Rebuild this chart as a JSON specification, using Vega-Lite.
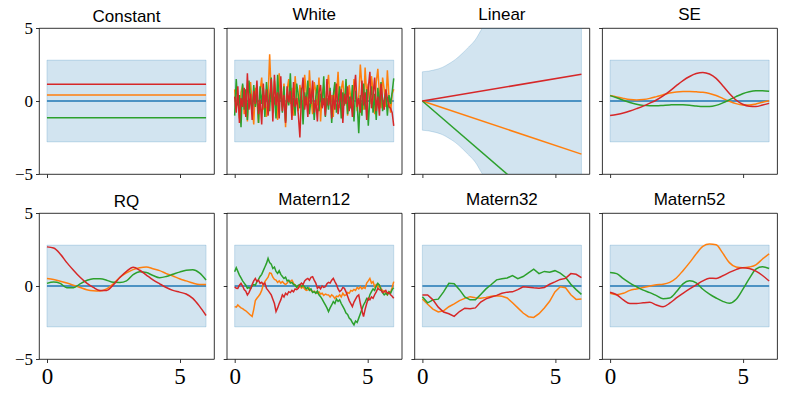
{
"$schema": "https://vega.github.io/schema/vega-lite/v6.json",
"background": "white",
"padding": {"left": 14, "top": 5, "right": 5, "bottom": 5},
"config": {
 "view": {"stroke": "#000", "strokeWidth": 0.8},
 "axis": {"grid": false, "domain": false, "tickColor": "#000", "tickWidth": 0.8, "tickSize": 3.5, "labelColor": "#000", "labelFont": "Liberation Serif", "labelPadding": 3},
 "axisX": {"labelFontSize": 23},
 "axisY": {"labelFontSize": 17},
 "title": {"font": "Liberation Sans", "fontSize": 17, "fontWeight": "normal", "color": "#000", "offset": 0},
 "line": {"strokeWidth": 1.5}
},
"datasets": {
"b": [
{"k":"C","x":0,"lo":-2.8,"hi":2.8},{"k":"C","x":6,"lo":-2.8,"hi":2.8},
{"k":"W","x":0,"lo":-2.8,"hi":2.8},{"k":"W","x":6,"lo":-2.8,"hi":2.8},
{"k":"SE","x":0,"lo":-2.8,"hi":2.8},{"k":"SE","x":6,"lo":-2.8,"hi":2.8},
{"k":"RQ","x":0,"lo":-2.8,"hi":2.8},{"k":"RQ","x":6,"lo":-2.8,"hi":2.8},
{"k":"M12","x":0,"lo":-2.8,"hi":2.8},{"k":"M12","x":6,"lo":-2.8,"hi":2.8},
{"k":"M32","x":0,"lo":-2.8,"hi":2.8},{"k":"M32","x":6,"lo":-2.8,"hi":2.8},
{"k":"M52","x":0,"lo":-2.8,"hi":2.8},{"k":"M52","x":6,"lo":-2.8,"hi":2.8},
{"k":"L","x":0,"lo":-2.0,"hi":2.0},{"k":"L","x":0.25,"lo":-2.05,"hi":2.05},{"k":"L","x":0.5,"lo":-2.15,"hi":2.15},{"k":"L","x":0.75,"lo":-2.3,"hi":2.3},{"k":"L","x":1,"lo":-2.55,"hi":2.55},{"k":"L","x":1.25,"lo":-2.85,"hi":2.85},{"k":"L","x":1.5,"lo":-3.25,"hi":3.25},{"k":"L","x":1.75,"lo":-3.7,"hi":3.7},{"k":"L","x":2,"lo":-4.2,"hi":4.2},{"k":"L","x":2.25,"lo":-4.95,"hi":4.95},{"k":"L","x":2.5,"lo":-5.5,"hi":5.5},{"k":"L","x":3,"lo":-6.6,"hi":6.6},{"k":"L","x":4,"lo":-8.6,"hi":8.6},{"k":"L","x":5,"lo":-10.6,"hi":10.6},{"k":"L","x":6,"lo":-12.6,"hi":12.6}
],
"s": [
{"k":"C","x":0,"o":0.41,"g":-1.15,"r":1.15},{"k":"C","x":6,"o":0.41,"g":-1.15,"r":1.15},
{"k":"L","x":0,"o":0,"g":0,"r":0},{"k":"L","x":6,"o":-3.64,"g":-9.4,"r":1.83},
{"k":"SE","x":0,"o":0.37,"g":0.37,"r":-1.0},{"k":"SE","x":0.25,"o":0.28,"g":0.22,"r":-0.92},{"k":"SE","x":0.5,"o":0.18,"g":0.05,"r":-0.82},{"k":"SE","x":0.75,"o":0.1,"g":-0.1,"r":-0.68},{"k":"SE","x":1,"o":0.07,"g":-0.22,"r":-0.52},{"k":"SE","x":1.25,"o":0.1,"g":-0.3,"r":-0.35},{"k":"SE","x":1.5,"o":0.18,"g":-0.33,"r":-0.15},{"k":"SE","x":1.75,"o":0.3,"g":-0.33,"r":0.07},{"k":"SE","x":2,"o":0.43,"g":-0.3,"r":0.35},{"k":"SE","x":2.25,"o":0.55,"g":-0.27,"r":0.68},{"k":"SE","x":2.5,"o":0.62,"g":-0.25,"r":1.05},{"k":"SE","x":2.75,"o":0.65,"g":-0.26,"r":1.4},{"k":"SE","x":3,"o":0.65,"g":-0.29,"r":1.68},{"k":"SE","x":3.25,"o":0.63,"g":-0.34,"r":1.88},{"k":"SE","x":3.5,"o":0.6,"g":-0.38,"r":1.96},{"k":"SE","x":3.75,"o":0.52,"g":-0.38,"r":1.85},{"k":"SE","x":4,"o":0.38,"g":-0.3,"r":1.55},{"k":"SE","x":4.25,"o":0.18,"g":-0.13,"r":1.05},{"k":"SE","x":4.5,"o":-0.02,"g":0.08,"r":0.52},{"k":"SE","x":4.75,"o":-0.18,"g":0.3,"r":0.07},{"k":"SE","x":5,"o":-0.27,"g":0.5,"r":-0.22},{"k":"SE","x":5.25,"o":-0.28,"g":0.63,"r":-0.36},{"k":"SE","x":5.5,"o":-0.2,"g":0.7,"r":-0.38},{"k":"SE","x":5.75,"o":-0.08,"g":0.71,"r":-0.28},{"k":"SE","x":6,"o":0.02,"g":0.67,"r":-0.16},
{"k":"RQ","x":0,"o":0.52,"g":0.18,"r":2.68},{"k":"RQ","x":0.25,"o":0.45,"g":0.27,"r":2.6},{"k":"RQ","x":0.5,"o":0.33,"g":0.18,"r":2.2},{"k":"RQ","x":0.75,"o":0.2,"g":-0.12,"r":1.6},{"k":"RQ","x":1,"o":0.05,"g":-0.12,"r":1.08},{"k":"RQ","x":1.25,"o":-0.1,"g":0.15,"r":0.6},{"k":"RQ","x":1.5,"o":-0.25,"g":0.38,"r":0.2},{"k":"RQ","x":1.75,"o":-0.33,"g":0.5,"r":-0.1},{"k":"RQ","x":2,"o":-0.35,"g":0.49,"r":-0.3},{"k":"RQ","x":2.25,"o":-0.2,"g":0.4,"r":-0.3},{"k":"RQ","x":2.5,"o":0.15,"g":0.25,"r":0.07},{"k":"RQ","x":2.75,"o":0.6,"g":0.24,"r":0.58},{"k":"RQ","x":3,"o":0.9,"g":0.35,"r":1.0},{"k":"RQ","x":3.25,"o":1.12,"g":0.78,"r":1.28},{"k":"RQ","x":3.5,"o":1.25,"g":0.98,"r":1.08},{"k":"RQ","x":3.75,"o":1.3,"g":0.92,"r":0.75},{"k":"RQ","x":4,"o":1.18,"g":0.72,"r":0.42},{"k":"RQ","x":4.25,"o":1.05,"g":0.57,"r":0.15},{"k":"RQ","x":4.5,"o":0.85,"g":0.65,"r":-0.1},{"k":"RQ","x":4.75,"o":0.68,"g":0.8,"r":-0.3},{"k":"RQ","x":5,"o":0.5,"g":0.95,"r":-0.42},{"k":"RQ","x":5.25,"o":0.35,"g":1.08,"r":-0.55},{"k":"RQ","x":5.5,"o":0.2,"g":1.11,"r":-0.85},{"k":"RQ","x":5.75,"o":0.1,"g":0.9,"r":-1.38},{"k":"RQ","x":6,"o":0.11,"g":0.41,"r":-2.02},
{"k":"M52","x":0,"o":-0.5,"g":0.93,"r":-0.43},{"k":"M52","x":0.25,"o":-0.6,"g":0.85,"r":-0.6},{"k":"M52","x":0.5,"o":-0.5,"g":0.5,"r":-0.95},{"k":"M52","x":0.75,"o":-0.3,"g":0.2,"r":-1.2},{"k":"M52","x":1,"o":-0.2,"g":-0.05,"r":-1.2},{"k":"M52","x":1.25,"o":-0.1,"g":-0.28,"r":-1.15},{"k":"M52","x":1.5,"o":0.0,"g":-0.45,"r":-1.12},{"k":"M52","x":1.75,"o":0.08,"g":-0.66,"r":-1.3},{"k":"M52","x":2,"o":0.12,"g":-0.87,"r":-1.42},{"k":"M52","x":2.25,"o":0.25,"g":-0.82,"r":-1.18},{"k":"M52","x":2.5,"o":0.55,"g":-0.4,"r":-0.82},{"k":"M52","x":2.75,"o":1.05,"g":0.15,"r":-0.5},{"k":"M52","x":3,"o":1.6,"g":0.36,"r":-0.2},{"k":"M52","x":3.25,"o":2.2,"g":0.22,"r":0.08},{"k":"M52","x":3.5,"o":2.72,"g":-0.22,"r":0.35},{"k":"M52","x":3.75,"o":2.87,"g":-0.55,"r":0.53},{"k":"M52","x":4,"o":2.82,"g":-0.82,"r":0.52},{"k":"M52","x":4.25,"o":2.25,"g":-1.05,"r":0.7},{"k":"M52","x":4.5,"o":1.6,"g":-1.18,"r":0.93},{"k":"M52","x":4.75,"o":1.3,"g":-0.93,"r":1.12},{"k":"M52","x":5,"o":1.25,"g":-0.25,"r":1.25},{"k":"M52","x":5.25,"o":1.3,"g":0.5,"r":1.2},{"k":"M52","x":5.5,"o":1.45,"g":1.16,"r":1.02},{"k":"M52","x":5.75,"o":1.85,"g":1.32,"r":0.72},{"k":"M52","x":6,"o":2.2,"g":1.2,"r":0.34},
{"k":"M32","x":0,"o":-0.89,"g":-0.73,"r":-0.61},{"k":"M32","x":0.2,"o":-1.25,"g":-1.15,"r":-0.62},{"k":"M32","x":0.4,"o":-1.58,"g":-0.95,"r":-0.95},{"k":"M32","x":0.6,"o":-1.78,"g":-0.9,"r":-1.45},{"k":"M32","x":0.8,"o":-1.7,"g":-0.4,"r":-1.78},{"k":"M32","x":1,"o":-1.42,"g":0.18,"r":-1.9},{"k":"M32","x":1.2,"o":-1.22,"g":0.15,"r":-2.08},{"k":"M32","x":1.4,"o":-1.0,"g":-0.25,"r":-1.75},{"k":"M32","x":1.6,"o":-0.85,"g":-0.75,"r":-1.52},{"k":"M32","x":1.8,"o":-0.73,"g":-0.95,"r":-1.55},{"k":"M32","x":2,"o":-0.8,"g":-0.95,"r":-1.5},{"k":"M32","x":2.2,"o":-0.84,"g":-0.58,"r":-1.1},{"k":"M32","x":2.4,"o":-0.78,"g":-0.2,"r":-0.88},{"k":"M32","x":2.6,"o":-0.7,"g":0.1,"r":-0.75},{"k":"M32","x":2.8,"o":-0.66,"g":0.42,"r":-0.64},{"k":"M32","x":3,"o":-0.7,"g":0.5,"r":-0.5},{"k":"M32","x":3.2,"o":-0.82,"g":0.55,"r":-0.42},{"k":"M32","x":3.4,"o":-1.15,"g":0.72,"r":-0.4},{"k":"M32","x":3.6,"o":-1.5,"g":0.5,"r":-0.25},{"k":"M32","x":3.8,"o":-1.85,"g":0.65,"r":-0.05},{"k":"M32","x":4,"o":-2.1,"g":0.9,"r":-0.08},{"k":"M32","x":4.2,"o":-2.15,"g":1.15,"r":-0.12},{"k":"M32","x":4.4,"o":-1.9,"g":0.85,"r":-0.15},{"k":"M32","x":4.6,"o":-1.5,"g":1.0,"r":-0.1},{"k":"M32","x":4.8,"o":-1.05,"g":0.95,"r":0.12},{"k":"M32","x":5,"o":-0.4,"g":1.05,"r":0.28},{"k":"M32","x":5.2,"o":-0.05,"g":0.88,"r":0.45},{"k":"M32","x":5.4,"o":-0.12,"g":0.6,"r":0.52},{"k":"M32","x":5.6,"o":-0.6,"g":0.12,"r":0.85},{"k":"M32","x":5.8,"o":-0.92,"g":-0.25,"r":0.8},{"k":"M32","x":6,"o":-0.89,"g":-0.57,"r":0.57},
{"k":"W","x":0,"o":0.8,"g":-1.0,"r":0.3},{"k":"W","x":0.06,"o":-0.5,"g":1.5,"r":-0.8},{"k":"W","x":0.12,"o":0.3,"g":-0.3,"r":1.0},{"k":"W","x":0.18,"o":-1.2,"g":0.4,"r":-1.5},{"k":"W","x":0.24,"o":0.6,"g":-1.8,"r":0.2},{"k":"W","x":0.3,"o":1.1,"g":1.2,"r":-0.4},{"k":"W","x":0.36,"o":-0.9,"g":-0.6,"r":0.9},{"k":"W","x":0.42,"o":0.2,"g":0.8,"r":-1.1},{"k":"W","x":0.48,"o":-1.4,"g":-1.3,"r":1.9},{"k":"W","x":0.54,"o":0.5,"g":1.4,"r":-0.6},
{"k":"W","x":0.6,"o":1.3,"g":0.2,"r":0.5},{"k":"W","x":0.66,"o":-0.3,"g":-0.9,"r":-1.3},{"k":"W","x":0.72,"o":-1.6,"g":1.1,"r":0.7},{"k":"W","x":0.78,"o":0.9,"g":-0.4,"r":-0.2},{"k":"W","x":0.84,"o":0.1,"g":0.6,"r":1.4},{"k":"W","x":0.9,"o":-1.5,"g":-1.5,"r":-0.9},{"k":"W","x":0.96,"o":0.7,"g":1.0,"r":0.1},{"k":"W","x":1.02,"o":1.6,"g":-0.2,"r":-1.6},{"k":"W","x":1.08,"o":-0.6,"g":0.9,"r":1.2},{"k":"W","x":1.14,"o":0.4,"g":-1.1,"r":-0.5},
{"k":"W","x":1.2,"o":-1.1,"g":1.3,"r":0.8},{"k":"W","x":1.26,"o":0.2,"g":0.1,"r":-1.0},{"k":"W","x":1.32,"o":3.2,"g":-0.7,"r":0.3},{"k":"W","x":1.38,"o":0.5,"g":1.6,"r":1.5},{"k":"W","x":1.44,"o":-0.8,"g":-0.5,"r":-1.4},{"k":"W","x":1.5,"o":1.4,"g":0.3,"r":1.8},{"k":"W","x":1.56,"o":0.3,"g":-1.2,"r":-0.3},{"k":"W","x":1.62,"o":-1.3,"g":1.8,"r":0.6},{"k":"W","x":1.68,"o":1.9,"g":-0.1,"r":-1.2},{"k":"W","x":1.74,"o":0.6,"g":0.7,"r":1.7},
{"k":"W","x":1.8,"o":-0.4,"g":-0.8,"r":-0.7},{"k":"W","x":1.86,"o":1.2,"g":1.0,"r":0.4},{"k":"W","x":1.92,"o":-1.8,"g":-1.4,"r":-1.5},{"k":"W","x":1.98,"o":0.8,"g":0.5,"r":1.0},{"k":"W","x":2.04,"o":1.5,"g":-0.3,"r":-0.1},{"k":"W","x":2.1,"o":-0.2,"g":1.9,"r":0.7},{"k":"W","x":2.16,"o":0.9,"g":-0.6,"r":-1.3},{"k":"W","x":2.22,"o":-1.0,"g":0.2,"r":1.3},{"k":"W","x":2.28,"o":1.7,"g":-1.0,"r":-0.4},{"k":"W","x":2.34,"o":0.4,"g":1.2,"r":0.2},
{"k":"W","x":2.4,"o":-0.7,"g":0.4,"r":-0.9},{"k":"W","x":2.46,"o":1.1,"g":-0.5,"r":-2.5},{"k":"W","x":2.52,"o":0.3,"g":0.9,"r":0.5},{"k":"W","x":2.58,"o":-1.2,"g":-1.6,"r":1.6},{"k":"W","x":2.64,"o":1.8,"g":0.6,"r":-0.6},{"k":"W","x":2.7,"o":0.6,"g":-0.2,"r":0.3},{"k":"W","x":2.76,"o":-0.5,"g":1.4,"r":-1.1},{"k":"W","x":2.82,"o":2.1,"g":-0.9,"r":0.9},{"k":"W","x":2.88,"o":0.2,"g":0.1,"r":-0.2},{"k":"W","x":2.94,"o":-0.9,"g":0.8,"r":1.4},
{"k":"W","x":3,"o":1.3,"g":-1.3,"r":-0.8},{"k":"W","x":3.06,"o":0.7,"g":0.3,"r":0.1},{"k":"W","x":3.12,"o":-0.3,"g":1.1,"r":-1.4},{"k":"W","x":3.18,"o":1.6,"g":-0.7,"r":0.6},{"k":"W","x":3.24,"o":-1.4,"g":0.5,"r":1.1},{"k":"W","x":3.3,"o":0.5,"g":-0.4,"r":-0.5},{"k":"W","x":3.36,"o":1.0,"g":1.7,"r":0.2},{"k":"W","x":3.42,"o":-0.6,"g":-1.1,"r":-1.0},{"k":"W","x":3.48,"o":0.9,"g":0.2,"r":1.5},{"k":"W","x":3.54,"o":1.8,"g":-0.6,"r":-0.3},
{"k":"W","x":3.6,"o":-0.2,"g":0.9,"r":0.7},{"k":"W","x":3.66,"o":0.4,"g":-1.5,"r":-1.2},{"k":"W","x":3.72,"o":-1.1,"g":0.4,"r":0.4},{"k":"W","x":3.78,"o":1.2,"g":1.3,"r":-0.6},{"k":"W","x":3.84,"o":0.3,"g":-0.8,"r":1.2},{"k":"W","x":3.9,"o":2.0,"g":0.0,"r":-0.9},{"k":"W","x":3.96,"o":-0.5,"g":1.0,"r":0.0},{"k":"W","x":4.02,"o":0.8,"g":-1.2,"r":0.8},{"k":"W","x":4.08,"o":1.4,"g":0.6,"r":-1.5},{"k":"W","x":4.14,"o":-0.3,"g":-0.3,"r":0.5},
{"k":"W","x":4.2,"o":0.6,"g":1.5,"r":-0.2},{"k":"W","x":4.26,"o":-1.0,"g":-0.9,"r":1.0},{"k":"W","x":4.32,"o":1.1,"g":0.3,"r":-0.7},{"k":"W","x":4.38,"o":0.2,"g":-0.5,"r":0.3},{"k":"W","x":4.44,"o":-0.4,"g":1.1,"r":-1.1},{"k":"W","x":4.5,"o":1.5,"g":-1.4,"r":0.6},{"k":"W","x":4.56,"o":0.9,"g":0.7,"r":1.8},{"k":"W","x":4.62,"o":-0.7,"g":-0.1,"r":-0.4},{"k":"W","x":4.68,"o":0.3,"g":-2.2,"r":0.2},{"k":"W","x":4.74,"o":2.5,"g":0.4,"r":-0.8},
{"k":"W","x":4.8,"o":1.0,"g":-1.0,"r":1.4},{"k":"W","x":4.86,"o":-0.6,"g":1.2,"r":-0.3},{"k":"W","x":4.92,"o":2.3,"g":-0.6,"r":0.6},{"k":"W","x":4.98,"o":0.4,"g":0.8,"r":-1.3},{"k":"W","x":5.04,"o":1.2,"g":-1.7,"r":0.9},{"k":"W","x":5.1,"o":-0.2,"g":0.2,"r":2.0},{"k":"W","x":5.16,"o":1.7,"g":1.0,"r":-0.5},{"k":"W","x":5.22,"o":0.7,"g":-0.8,"r":0.4},{"k":"W","x":5.28,"o":-0.9,"g":0.5,"r":1.6},{"k":"W","x":5.34,"o":1.3,"g":-1.3,"r":-0.7},
{"k":"W","x":5.4,"o":2.2,"g":0.9,"r":0.3},{"k":"W","x":5.46,"o":0.5,"g":-0.4,"r":-1.0},{"k":"W","x":5.52,"o":-0.5,"g":1.3,"r":1.2},{"k":"W","x":5.58,"o":1.6,"g":-0.7,"r":0.1},{"k":"W","x":5.64,"o":0.8,"g":0.1,"r":-0.6},{"k":"W","x":5.7,"o":-0.4,"g":0.6,"r":0.8},{"k":"W","x":5.76,"o":2.1,"g":-1.0,"r":0.2},{"k":"W","x":5.82,"o":0.3,"g":0.4,"r":-0.4},{"k":"W","x":5.88,"o":-0.8,"g":-0.2,"r":-0.5},{"k":"W","x":5.94,"o":0.5,"g":0.6,"r":-0.8},{"k":"W","x":6,"o":0.8,"g":1.55,"r":-1.7},
{"k":"M12","x":0,"o":-1.41,"g":0.98,"r":-0.05},{"k":"M12","x":0.06,"o":-1.45,"g":1.25,"r":-0.15},{"k":"M12","x":0.12,"o":-1.3,"g":1.0,"r":-0.16},{"k":"M12","x":0.18,"o":-1.4,"g":0.75,"r":0.05},{"k":"M12","x":0.24,"o":-1.5,"g":0.55,"r":0.18},{"k":"M12","x":0.3,"o":-1.55,"g":0.35,"r":0.0},{"k":"M12","x":0.36,"o":-1.64,"g":0.2,"r":-0.25},{"k":"M12","x":0.42,"o":-1.7,"g":0.05,"r":-0.35},{"k":"M12","x":0.48,"o":-1.8,"g":-0.15,"r":-0.61},{"k":"M12","x":0.54,"o":-1.9,"g":-0.1,"r":-0.45},
{"k":"M12","x":0.6,"o":-2.0,"g":-0.2,"r":-0.2},{"k":"M12","x":0.66,"o":-2.09,"g":0.0,"r":0.1},{"k":"M12","x":0.72,"o":-1.6,"g":0.1,"r":0.35},{"k":"M12","x":0.78,"o":-1.0,"g":0.05,"r":0.52},{"k":"M12","x":0.84,"o":-0.84,"g":0.3,"r":0.3},{"k":"M12","x":0.9,"o":-0.7,"g":0.45,"r":0.4},{"k":"M12","x":0.96,"o":-0.55,"g":0.65,"r":0.18},{"k":"M12","x":1.02,"o":-0.3,"g":0.8,"r":0.25},{"k":"M12","x":1.08,"o":0.1,"g":1.05,"r":0.1},{"k":"M12","x":1.14,"o":0.3,"g":1.3,"r":0.2},
{"k":"M12","x":1.2,"o":0.45,"g":1.55,"r":-0.16},{"k":"M12","x":1.26,"o":0.6,"g":1.89,"r":-0.3},{"k":"M12","x":1.32,"o":0.9,"g":1.6,"r":-0.45},{"k":"M12","x":1.38,"o":0.86,"g":1.5,"r":-0.61},{"k":"M12","x":1.44,"o":0.6,"g":1.2,"r":-0.9},{"k":"M12","x":1.5,"o":0.45,"g":1.3,"r":-1.2},{"k":"M12","x":1.56,"o":0.41,"g":1.0,"r":-1.75},{"k":"M12","x":1.62,"o":0.25,"g":0.86,"r":-1.5},{"k":"M12","x":1.68,"o":0.35,"g":1.05,"r":-1.2},{"k":"M12","x":1.74,"o":0.2,"g":0.8,"r":-0.95},
{"k":"M12","x":1.8,"o":0.3,"g":0.65,"r":-0.61},{"k":"M12","x":1.86,"o":0.18,"g":0.52,"r":-0.75},{"k":"M12","x":1.92,"o":0.1,"g":0.6,"r":-0.5},{"k":"M12","x":1.98,"o":0.2,"g":0.35,"r":-0.6},{"k":"M12","x":2.04,"o":0.35,"g":0.4,"r":-0.39},{"k":"M12","x":2.1,"o":0.3,"g":0.2,"r":-0.45},{"k":"M12","x":2.16,"o":0.4,"g":0.25,"r":-0.3},{"k":"M12","x":2.22,"o":0.2,"g":0.1,"r":-0.4},{"k":"M12","x":2.28,"o":0.05,"g":0.07,"r":-0.2},{"k":"M12","x":2.34,"o":-0.05,"g":-0.1,"r":-0.25},
{"k":"M12","x":2.4,"o":-0.11,"g":0.05,"r":-0.16},{"k":"M12","x":2.46,"o":0.0,"g":0.1,"r":0.05},{"k":"M12","x":2.52,"o":-0.15,"g":-0.05,"r":0.2},{"k":"M12","x":2.58,"o":-0.05,"g":0.05,"r":0.1},{"k":"M12","x":2.64,"o":-0.2,"g":-0.05,"r":0.35},{"k":"M12","x":2.7,"o":-0.3,"g":-0.2,"r":0.45},{"k":"M12","x":2.76,"o":-0.27,"g":-0.1,"r":0.52},{"k":"M12","x":2.82,"o":-0.15,"g":-0.3,"r":0.4},{"k":"M12","x":2.88,"o":-0.3,"g":-0.2,"r":0.6},{"k":"M12","x":2.94,"o":-0.4,"g":-0.45,"r":0.64},
{"k":"M12","x":3,"o":-0.35,"g":-0.39,"r":0.4},{"k":"M12","x":3.06,"o":-0.45,"g":-0.5,"r":0.2},{"k":"M12","x":3.12,"o":-0.5,"g":-0.35,"r":-0.16},{"k":"M12","x":3.18,"o":-0.4,"g":-0.6,"r":-0.05},{"k":"M12","x":3.24,"o":-0.55,"g":-0.73,"r":-0.2},{"k":"M12","x":3.3,"o":-0.5,"g":-0.9,"r":0.0},{"k":"M12","x":3.36,"o":-0.65,"g":-1.1,"r":-0.1},{"k":"M12","x":3.42,"o":-0.55,"g":-1.3,"r":-0.05},{"k":"M12","x":3.48,"o":-0.6,"g":-1.5,"r":0.15},{"k":"M12","x":3.54,"o":-0.61,"g":-1.75,"r":0.25},
{"k":"M12","x":3.6,"o":-0.75,"g":-1.5,"r":0.2},{"k":"M12","x":3.66,"o":-0.6,"g":-1.3,"r":0.4},{"k":"M12","x":3.72,"o":-0.7,"g":-1.07,"r":0.52},{"k":"M12","x":3.78,"o":-0.85,"g":-1.2,"r":0.3},{"k":"M12","x":3.84,"o":-0.7,"g":-0.9,"r":0.1},{"k":"M12","x":3.9,"o":-0.73,"g":-1.05,"r":-0.2},{"k":"M12","x":3.96,"o":-0.6,"g":-0.95,"r":-0.39},{"k":"M12","x":4.02,"o":-0.75,"g":-1.2,"r":-0.3},{"k":"M12","x":4.08,"o":-0.5,"g":-1.4,"r":-0.1},{"k":"M12","x":4.14,"o":-0.65,"g":-1.6,"r":-0.16},
{"k":"M12","x":4.2,"o":-0.61,"g":-1.86,"r":-0.4},{"k":"M12","x":4.26,"o":-0.45,"g":-1.95,"r":-0.7},{"k":"M12","x":4.32,"o":-0.5,"g":-2.2,"r":-1.0},{"k":"M12","x":4.38,"o":-0.3,"g":-2.3,"r":-1.2},{"k":"M12","x":4.44,"o":-0.35,"g":-2.5,"r":-1.41},{"k":"M12","x":4.5,"o":-0.23,"g":-2.66,"r":-1.1},{"k":"M12","x":4.56,"o":-0.3,"g":-2.4,"r":-0.9},{"k":"M12","x":4.62,"o":-0.1,"g":-2.5,"r":-0.7},{"k":"M12","x":4.68,"o":-0.2,"g":-2.2,"r":-0.61},{"k":"M12","x":4.74,"o":-0.05,"g":-1.9,"r":-1.2},
{"k":"M12","x":4.8,"o":-0.2,"g":-1.6,"r":-1.7},{"k":"M12","x":4.86,"o":-0.1,"g":-1.3,"r":-2.09},{"k":"M12","x":4.92,"o":-0.16,"g":-1.1,"r":-1.6},{"k":"M12","x":4.98,"o":0.2,"g":-0.85,"r":-1.2},{"k":"M12","x":5.04,"o":0.35,"g":-0.95,"r":-0.84},{"k":"M12","x":5.1,"o":0.52,"g":-0.6,"r":-0.95},{"k":"M12","x":5.16,"o":0.2,"g":-0.39,"r":-0.75},{"k":"M12","x":5.22,"o":0.3,"g":-0.2,"r":-0.84},{"k":"M12","x":5.28,"o":-0.05,"g":-0.3,"r":-0.6},{"k":"M12","x":5.34,"o":0.1,"g":0.0,"r":-0.4},
{"k":"M12","x":5.4,"o":-0.1,"g":0.18,"r":-0.16},{"k":"M12","x":5.46,"o":0.05,"g":0.05,"r":-0.25},{"k":"M12","x":5.52,"o":-0.16,"g":-0.25,"r":-0.3},{"k":"M12","x":5.58,"o":-0.3,"g":-0.45,"r":-0.45},{"k":"M12","x":5.64,"o":-0.35,"g":-0.61,"r":-0.39},{"k":"M12","x":5.7,"o":-0.5,"g":-0.5,"r":-0.3},{"k":"M12","x":5.76,"o":-0.61,"g":-0.6,"r":-0.5},{"k":"M12","x":5.82,"o":-0.4,"g":-0.39,"r":-0.45},{"k":"M12","x":5.88,"o":-0.45,"g":-0.5,"r":-0.6},{"k":"M12","x":5.94,"o":-0.1,"g":-0.25,"r":-0.7},{"k":"M12","x":6,"o":0.3,"g":-0.11,"r":-0.84}
]
},
"columns": 4,
"spacing": {"row": 39, "column": 12.7},
"bounds": "flush",
"concat": [
{"title":{"text":"Constant","offset":-7},"width":175,"height":146,"layer":[
 {"data":{"name":"b"},"transform":[{"filter":"datum.k=='C'"}],"mark":{"type":"area","fill":"#1f77b4","fillOpacity":0.2,"stroke":"#1f77b4","strokeOpacity":0.2,"strokeWidth":1,"clip":true},"encoding":{"x":{"field":"x","type":"quantitative","scale":{"domain":[-0.3,6.3],"nice":false,"zero":false},"axis":{"values":[0,5],"title":null,"labels":false}},"y":{"field":"lo","type":"quantitative","scale":{"domain":[-5,5],"nice":false},"axis":{"values":[-5,0,5],"title":null,"labels":true}},"y2":{"field":"hi"}}},
 {"data":{"name":"b"},"transform":[{"filter":"datum.k=='C'"}],"mark":{"type":"line","color":"#1f77b4","clip":true},"encoding":{"x":{"field":"x","type":"quantitative"},"y":{"datum":0}}},
 {"data":{"name":"s"},"transform":[{"filter":"datum.k=='C'"},{"fold":["o","g","r"],"as":["s","y"]}],"mark":{"type":"line","clip":true},"encoding":{"x":{"field":"x","type":"quantitative"},"y":{"field":"y","type":"quantitative"},"color":{"field":"s","type":"nominal","scale":{"domain":["o","g","r"],"range":["#ff7f0e","#2ca02c","#d62728"]},"legend":null}}}
]},
{"title":"White","width":175,"height":146,"layer":[
 {"data":{"name":"b"},"transform":[{"filter":"datum.k=='W'"}],"mark":{"type":"area","fill":"#1f77b4","fillOpacity":0.2,"stroke":"#1f77b4","strokeOpacity":0.2,"strokeWidth":1,"clip":true},"encoding":{"x":{"field":"x","type":"quantitative","scale":{"domain":[-0.3,6.3],"nice":false,"zero":false},"axis":{"values":[0,5],"title":null,"labels":false}},"y":{"field":"lo","type":"quantitative","scale":{"domain":[-5,5],"nice":false},"axis":{"values":[-5,0,5],"title":null,"labels":false}},"y2":{"field":"hi"}}},
 {"data":{"name":"b"},"transform":[{"filter":"datum.k=='W'"}],"mark":{"type":"line","color":"#1f77b4","clip":true},"encoding":{"x":{"field":"x","type":"quantitative"},"y":{"datum":0}}},
 {"data":{"name":"s"},"transform":[{"filter":"datum.k=='W'"},{"fold":["o","g","r"],"as":["s","y"]}],"mark":{"type":"line","clip":true},"encoding":{"x":{"field":"x","type":"quantitative"},"y":{"field":"y","type":"quantitative"},"color":{"field":"s","type":"nominal","scale":{"domain":["o","g","r"],"range":["#ff7f0e","#2ca02c","#d62728"]},"legend":null}}}
]},
{"title":"Linear","width":175,"height":146,"layer":[
 {"data":{"name":"b"},"transform":[{"filter":"datum.k=='L'"}],"mark":{"type":"area","fill":"#1f77b4","fillOpacity":0.2,"stroke":"#1f77b4","strokeOpacity":0.2,"strokeWidth":1,"clip":true,"interpolate":"monotone"},"encoding":{"x":{"field":"x","type":"quantitative","scale":{"domain":[-0.3,6.3],"nice":false,"zero":false},"axis":{"values":[0,5],"title":null,"labels":false}},"y":{"field":"lo","type":"quantitative","scale":{"domain":[-5,5],"nice":false},"axis":{"values":[-5,0,5],"title":null,"labels":false}},"y2":{"field":"hi"}}},
 {"data":{"name":"b"},"transform":[{"filter":"datum.k=='L'"}],"mark":{"type":"line","color":"#1f77b4","clip":true},"encoding":{"x":{"field":"x","type":"quantitative"},"y":{"datum":0}}},
 {"data":{"name":"s"},"transform":[{"filter":"datum.k=='L'"},{"fold":["o","g","r"],"as":["s","y"]}],"mark":{"type":"line","clip":true},"encoding":{"x":{"field":"x","type":"quantitative"},"y":{"field":"y","type":"quantitative"},"color":{"field":"s","type":"nominal","scale":{"domain":["o","g","r"],"range":["#ff7f0e","#2ca02c","#d62728"]},"legend":null}}}
]},
{"title":"SE","width":175,"height":146,"layer":[
 {"data":{"name":"b"},"transform":[{"filter":"datum.k=='SE'"}],"mark":{"type":"area","fill":"#1f77b4","fillOpacity":0.2,"stroke":"#1f77b4","strokeOpacity":0.2,"strokeWidth":1,"clip":true},"encoding":{"x":{"field":"x","type":"quantitative","scale":{"domain":[-0.3,6.3],"nice":false,"zero":false},"axis":{"values":[0,5],"title":null,"labels":false}},"y":{"field":"lo","type":"quantitative","scale":{"domain":[-5,5],"nice":false},"axis":{"values":[-5,0,5],"title":null,"labels":false}},"y2":{"field":"hi"}}},
 {"data":{"name":"b"},"transform":[{"filter":"datum.k=='SE'"}],"mark":{"type":"line","color":"#1f77b4","clip":true},"encoding":{"x":{"field":"x","type":"quantitative"},"y":{"datum":0}}},
 {"data":{"name":"s"},"transform":[{"filter":"datum.k=='SE'"},{"fold":["o","g","r"],"as":["s","y"]}],"mark":{"type":"line","clip":true,"interpolate":"monotone"},"encoding":{"x":{"field":"x","type":"quantitative"},"y":{"field":"y","type":"quantitative"},"color":{"field":"s","type":"nominal","scale":{"domain":["o","g","r"],"range":["#ff7f0e","#2ca02c","#d62728"]},"legend":null}}}
]},
{"title":{"text":"RQ","offset":-7},"width":175,"height":146,"layer":[
 {"data":{"name":"b"},"transform":[{"filter":"datum.k=='RQ'"}],"mark":{"type":"area","fill":"#1f77b4","fillOpacity":0.2,"stroke":"#1f77b4","strokeOpacity":0.2,"strokeWidth":1,"clip":true},"encoding":{"x":{"field":"x","type":"quantitative","scale":{"domain":[-0.3,6.3],"nice":false,"zero":false},"axis":{"values":[0,5],"title":null,"labels":true}},"y":{"field":"lo","type":"quantitative","scale":{"domain":[-5,5],"nice":false},"axis":{"values":[-5,0,5],"title":null,"labels":true}},"y2":{"field":"hi"}}},
 {"data":{"name":"b"},"transform":[{"filter":"datum.k=='RQ'"}],"mark":{"type":"line","color":"#1f77b4","clip":true},"encoding":{"x":{"field":"x","type":"quantitative"},"y":{"datum":0}}},
 {"data":{"name":"s"},"transform":[{"filter":"datum.k=='RQ'"},{"fold":["o","g","r"],"as":["s","y"]}],"mark":{"type":"line","clip":true,"interpolate":"monotone"},"encoding":{"x":{"field":"x","type":"quantitative"},"y":{"field":"y","type":"quantitative"},"color":{"field":"s","type":"nominal","scale":{"domain":["o","g","r"],"range":["#ff7f0e","#2ca02c","#d62728"]},"legend":null}}}
]},
{"title":"Matern12","width":175,"height":146,"layer":[
 {"data":{"name":"b"},"transform":[{"filter":"datum.k=='M12'"}],"mark":{"type":"area","fill":"#1f77b4","fillOpacity":0.2,"stroke":"#1f77b4","strokeOpacity":0.2,"strokeWidth":1,"clip":true},"encoding":{"x":{"field":"x","type":"quantitative","scale":{"domain":[-0.3,6.3],"nice":false,"zero":false},"axis":{"values":[0,5],"title":null,"labels":true}},"y":{"field":"lo","type":"quantitative","scale":{"domain":[-5,5],"nice":false},"axis":{"values":[-5,0,5],"title":null,"labels":false}},"y2":{"field":"hi"}}},
 {"data":{"name":"b"},"transform":[{"filter":"datum.k=='M12'"}],"mark":{"type":"line","color":"#1f77b4","clip":true},"encoding":{"x":{"field":"x","type":"quantitative"},"y":{"datum":0}}},
 {"data":{"name":"s"},"transform":[{"filter":"datum.k=='M12'"},{"fold":["o","g","r"],"as":["s","y"]}],"mark":{"type":"line","clip":true},"encoding":{"x":{"field":"x","type":"quantitative"},"y":{"field":"y","type":"quantitative"},"color":{"field":"s","type":"nominal","scale":{"domain":["o","g","r"],"range":["#ff7f0e","#2ca02c","#d62728"]},"legend":null}}}
]},
{"title":"Matern32","width":175,"height":146,"layer":[
 {"data":{"name":"b"},"transform":[{"filter":"datum.k=='M32'"}],"mark":{"type":"area","fill":"#1f77b4","fillOpacity":0.2,"stroke":"#1f77b4","strokeOpacity":0.2,"strokeWidth":1,"clip":true},"encoding":{"x":{"field":"x","type":"quantitative","scale":{"domain":[-0.3,6.3],"nice":false,"zero":false},"axis":{"values":[0,5],"title":null,"labels":true}},"y":{"field":"lo","type":"quantitative","scale":{"domain":[-5,5],"nice":false},"axis":{"values":[-5,0,5],"title":null,"labels":false}},"y2":{"field":"hi"}}},
 {"data":{"name":"b"},"transform":[{"filter":"datum.k=='M32'"}],"mark":{"type":"line","color":"#1f77b4","clip":true},"encoding":{"x":{"field":"x","type":"quantitative"},"y":{"datum":0}}},
 {"data":{"name":"s"},"transform":[{"filter":"datum.k=='M32'"},{"fold":["o","g","r"],"as":["s","y"]}],"mark":{"type":"line","clip":true},"encoding":{"x":{"field":"x","type":"quantitative"},"y":{"field":"y","type":"quantitative"},"color":{"field":"s","type":"nominal","scale":{"domain":["o","g","r"],"range":["#ff7f0e","#2ca02c","#d62728"]},"legend":null}}}
]},
{"title":"Matern52","width":175,"height":146,"layer":[
 {"data":{"name":"b"},"transform":[{"filter":"datum.k=='M52'"}],"mark":{"type":"area","fill":"#1f77b4","fillOpacity":0.2,"stroke":"#1f77b4","strokeOpacity":0.2,"strokeWidth":1,"clip":true},"encoding":{"x":{"field":"x","type":"quantitative","scale":{"domain":[-0.3,6.3],"nice":false,"zero":false},"axis":{"values":[0,5],"title":null,"labels":true}},"y":{"field":"lo","type":"quantitative","scale":{"domain":[-5,5],"nice":false},"axis":{"values":[-5,0,5],"title":null,"labels":false}},"y2":{"field":"hi"}}},
 {"data":{"name":"b"},"transform":[{"filter":"datum.k=='M52'"}],"mark":{"type":"line","color":"#1f77b4","clip":true},"encoding":{"x":{"field":"x","type":"quantitative"},"y":{"datum":0}}},
 {"data":{"name":"s"},"transform":[{"filter":"datum.k=='M52'"},{"fold":["o","g","r"],"as":["s","y"]}],"mark":{"type":"line","clip":true,"interpolate":"monotone"},"encoding":{"x":{"field":"x","type":"quantitative"},"y":{"field":"y","type":"quantitative"},"color":{"field":"s","type":"nominal","scale":{"domain":["o","g","r"],"range":["#ff7f0e","#2ca02c","#d62728"]},"legend":null}}}
]}
]
}
